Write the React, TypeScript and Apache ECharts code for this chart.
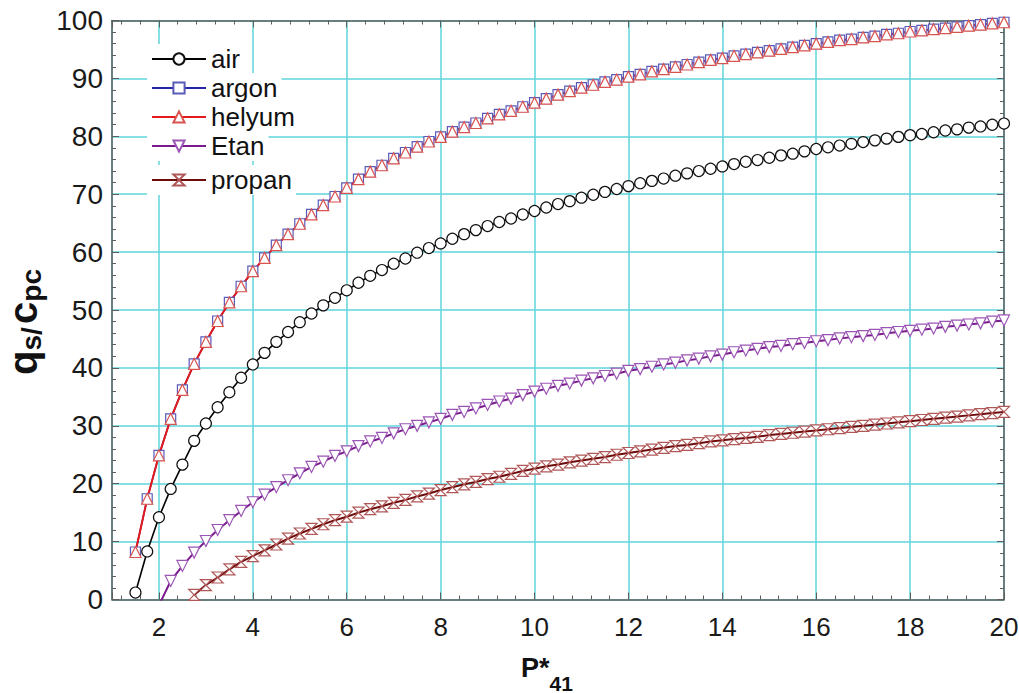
import React, { useEffect, useRef } from "react";
import * as echarts from "echarts";

// Reduced pressure P*41 at which the curves are sampled
const P41 = [
  1.5, 1.75,
  2, 2.25, 2.5, 2.75, 3, 3.25, 3.5, 3.75, 4, 4.25, 4.5, 4.75,
  5, 5.25, 5.5, 5.75, 6, 6.25, 6.5, 6.75, 7, 7.25, 7.5, 7.75,
  8, 8.25, 8.5, 8.75, 9, 9.25, 9.5, 9.75, 10, 10.25, 10.5, 10.75,
  11, 11.25, 11.5, 11.75, 12, 12.25, 12.5, 12.75, 13, 13.25, 13.5, 13.75,
  14, 14.25, 14.5, 14.75, 15, 15.25, 15.5, 15.75, 16, 16.25, 16.5, 16.75,
  17, 17.25, 17.5, 17.75, 18, 18.25, 18.5, 18.75, 19, 19.25, 19.5, 19.75,
  20,
];

// q_s / c_pc for each gas (starting at P41[0] = 1.5)
const airValues = [
  1.2, 8.3,
  14.2, 19.1, 23.3, 27.4, 30.4, 33.2, 35.8, 38.3, 40.6, 42.6, 44.5, 46.2,
  47.9, 49.4, 50.8, 52.1, 53.4, 54.7, 55.9, 56.9, 58.0, 58.9, 59.9, 60.7,
  61.5, 62.3, 63.1, 63.8, 64.5, 65.2, 65.8, 66.5, 67.1, 67.7, 68.3, 68.8,
  69.4, 69.9, 70.4, 70.9, 71.4, 71.9, 72.3, 72.7, 73.2, 73.6, 74.0, 74.4,
  74.8, 75.2, 75.6, 75.9, 76.3, 76.7, 77.0, 77.4, 77.8, 78.1, 78.4, 78.7,
  79.0, 79.3, 79.6, 79.9, 80.2, 80.4, 80.7, 81.0, 81.2, 81.5, 81.7, 82.0,
  82.2,
];

const argonValues = [
  8.2, 17.4,
  24.9, 31.2, 36.2, 40.7, 44.5, 48.1, 51.3, 54.1, 56.7, 59.0, 61.2, 63.1,
  64.9, 66.5, 68.1, 69.6, 71.1, 72.6, 73.9, 75.0, 76.2, 77.2, 78.2, 79.1,
  79.9, 80.8, 81.6, 82.3, 83.1, 83.8, 84.4, 85.1, 85.8, 86.5, 87.2, 87.8,
  88.4, 88.9, 89.4, 89.8, 90.3, 90.7, 91.2, 91.6, 92.0, 92.4, 92.8, 93.2,
  93.5, 93.9, 94.2, 94.5, 94.8, 95.1, 95.4, 95.7, 96.0, 96.3, 96.6, 96.8,
  97.1, 97.3, 97.6, 97.8, 98.1, 98.3, 98.5, 98.7, 98.9, 99.1, 99.3, 99.5,
  99.7,
];

const helyumValues = [
  8.2, 17.4,
  24.9, 31.2, 36.2, 40.7, 44.5, 48.1, 51.3, 54.1, 56.7, 59.0, 61.2, 63.1,
  64.9, 66.5, 68.1, 69.6, 71.1, 72.6, 73.9, 75.0, 76.2, 77.2, 78.2, 79.1,
  79.9, 80.8, 81.6, 82.3, 83.1, 83.8, 84.4, 85.1, 85.8, 86.5, 87.2, 87.8,
  88.4, 88.9, 89.4, 89.8, 90.3, 90.7, 91.2, 91.6, 92.0, 92.4, 92.8, 93.2,
  93.5, 93.9, 94.2, 94.5, 94.8, 95.1, 95.4, 95.7, 96.0, 96.3, 96.6, 96.8,
  97.1, 97.3, 97.6, 97.8, 98.1, 98.3, 98.5, 98.7, 98.9, 99.1, 99.3, 99.5,
  99.7,
];

// starts at P41 = 2.0 (first point lies just under the axis)
const etanValues = [
  -1.0, 3.2, 5.8, 8.1, 10.1, 12.0, 13.7, 15.3, 16.8, 18.1, 19.4, 20.6,
  21.8, 22.9, 23.8, 24.8, 25.6, 26.5, 27.3, 27.9, 28.7, 29.4, 30.0, 30.6,
  31.2, 31.9, 32.4, 33.0, 33.6, 34.2, 34.7, 35.3, 35.9, 36.4, 36.9, 37.3,
  37.8, 38.2, 38.6, 39.0, 39.5, 39.8, 40.2, 40.6, 40.9, 41.3, 41.6, 42.0,
  42.3, 42.7, 43.0, 43.3, 43.6, 43.8, 44.1, 44.3, 44.6, 44.8, 45.1, 45.3,
  45.5, 45.7, 46.0, 46.2, 46.4, 46.6, 46.8, 47.1, 47.3, 47.5, 47.7, 48.0,
  48.2,
];

// starts at P41 = 2.5 (first point lies under the axis)
const propanValues = [
  -5.5, 0.8,
  2.5, 3.8, 5.2, 6.5, 7.5, 8.5, 9.5, 10.5, 11.4, 12.2, 13.0, 13.7,
  14.3, 15.0, 15.6, 16.1, 16.7, 17.2, 17.8, 18.3, 18.9, 19.4, 19.9, 20.3,
  20.8, 21.2, 21.7, 22.2, 22.6, 23.0, 23.3, 23.7, 24.0, 24.3, 24.6, 25.0,
  25.3, 25.6, 25.9, 26.2, 26.5, 26.7, 27.0, 27.3, 27.5, 27.7, 27.9, 28.1,
  28.4, 28.6, 28.8, 29.0, 29.2, 29.4, 29.6, 29.8, 30.0, 30.2, 30.4, 30.6,
  30.8, 31.0, 31.2, 31.4, 31.6, 31.8, 32.0, 32.2, 32.4,
];

const seriesNames = ["air", "argon", "helyum", "Etan", "propan"];

const FONT = "'Liberation Sans', Arial, sans-serif";
const GRID_COLOR = "#5fd4da";
const FRAME_COLOR = "#5e5e5e";

const DOWN_TRIANGLE = "path://M0,0L10,0L5,9Z";
const HOURGLASS = "path://M0,0L10,0L0,10L10,10Z";

function toPoints(values: number[], startIndex: number) {
  return values.map((v, i) => [P41[i + startIndex], v]);
}

function lineSeries(
  name: string,
  data: number[][],
  lineColor: string,
  markerColor: string,
  symbol: string,
  symbolSize: number,
  lineWidth: number
) {
  return {
    name,
    type: "line",
    data,
    clip: true,
    symbol,
    symbolSize,
    showAllSymbol: true,
    lineStyle: { color: lineColor, width: lineWidth },
    itemStyle: { color: "#ffffff", borderColor: markerColor, borderWidth: 1.2 },
    emphasis: { disabled: true },
  };
}

const legendTops = [44, 73, 102, 131, 165];

export default function App() {
  const ref = useRef<HTMLDivElement>(null);

  useEffect(() => {
    if (!ref.current) return;
    const chart = echarts.init(ref.current, undefined, { renderer: "svg" });

    const tickStyle = { color: FRAME_COLOR, width: 1 };
    const frameLine = { show: true, onZero: false, lineStyle: { color: FRAME_COLOR, width: 1.5 } };

    const baseX = {
      type: "value",
      min: 1,
      max: 20,
      splitNumber: 10,
      minInterval: 2,
      maxInterval: 2,
      axisLine: frameLine,
      axisTick: { show: true, inside: true, length: 7, lineStyle: tickStyle },
      minorTick: { show: true, splitNumber: 5, length: 4, lineStyle: tickStyle },
    };
    const baseY = {
      type: "value",
      min: 0,
      max: 100,
      interval: 10,
      axisLine: frameLine,
      axisTick: { show: true, inside: true, length: 7, lineStyle: tickStyle },
      minorTick: { show: true, splitNumber: 5, length: 4, lineStyle: tickStyle },
    };

    chart.setOption({
      animation: false,
      backgroundColor: "#ffffff",
      textStyle: { fontFamily: FONT },
      grid: {
        left: 112,
        right: 15,
        top: 20.5,
        bottom: 93.5,
        containLabel: false,
        outerBoundsMode: "none",
      },
      legend: seriesNames.map((n, i) => ({
        data: [n],
        left: 147,
        top: legendTops[i],
        orient: "vertical",
        selectedMode: false,
        backgroundColor: "#ffffff",
        padding: [2, 4, 2, 4],
        itemWidth: 54,
        itemHeight: 14,
        textStyle: { fontSize: 26, color: "#111", fontFamily: FONT },
      })),
      xAxis: [
        {
          ...baseX,
          position: "bottom",
          axisLabel: {
            showMinLabel: false,
            fontSize: 26,
            color: "#1a1a1a",
            margin: 14,
            fontFamily: FONT,
          },
          splitLine: { show: true, lineStyle: { color: GRID_COLOR, width: 1.5 } },
          name: "{p|P*}{s|41}",
          nameLocation: "middle",
          nameGap: 55,
          nameTextStyle: {
            padding: [0, 22, 0, 0],
            rich: {
              p: { fontSize: 27, fontWeight: "bold", color: "#111", lineHeight: 28, verticalAlign: "top", fontFamily: FONT },
              s: { fontSize: 21, fontWeight: "bold", color: "#111", lineHeight: 21, padding: [18, 0, 0, 0], verticalAlign: "top", fontFamily: FONT },
            },
          },
        },
        {
          ...baseX,
          position: "top",
          axisLabel: { show: false },
          splitLine: { show: false },
        },
      ],
      yAxis: [
        {
          ...baseY,
          position: "left",
          axisLabel: { fontSize: 28, color: "#1a1a1a", margin: 9, fontFamily: FONT },
          splitLine: { show: true, lineStyle: { color: GRID_COLOR, width: 1.5 } },
          name: "{q|q}{s|s/} {q|c}{s|pc}",
          nameLocation: "middle",
          nameGap: 60,
          nameTextStyle: {
            padding: [0, 24, 0, 0],
            rich: {
              q: { fontSize: 40, fontWeight: "bold", color: "#111", lineHeight: 40, verticalAlign: "top", fontFamily: FONT },
              s: { fontSize: 28, fontWeight: "bold", color: "#111", lineHeight: 28, padding: [14, 0, 0, 0], verticalAlign: "top", fontFamily: FONT },
            },
          },
        },
        {
          ...baseY,
          position: "right",
          axisLabel: { show: false },
          splitLine: { show: false },
        },
      ],
      series: [
        lineSeries("air", toPoints(airValues, 0), "#000000", "#111111", "circle", 11, 1.6),
        lineSeries("argon", toPoints(argonValues, 0), "#2424a8", "#5a5ab8", "rect", 10, 1.6),
        lineSeries("helyum", toPoints(helyumValues, 0), "#e3191c", "#d9534f", "triangle", 11, 2),
        lineSeries("Etan", toPoints(etanValues, 2), "#7a1b8c", "#9b55b4", DOWN_TRIANGLE, 11, 2),
        lineSeries("propan", toPoints(propanValues, 4), "#6e0b0b", "#b05858", HOURGLASS, 11, 2),
      ],
    });

    return () => chart.dispose();
  }, []);

  return (
    <div
      ref={ref}
      style={{ position: "absolute", left: 0, top: 0, width: 1019, height: 693 }}
    />
  );
}
